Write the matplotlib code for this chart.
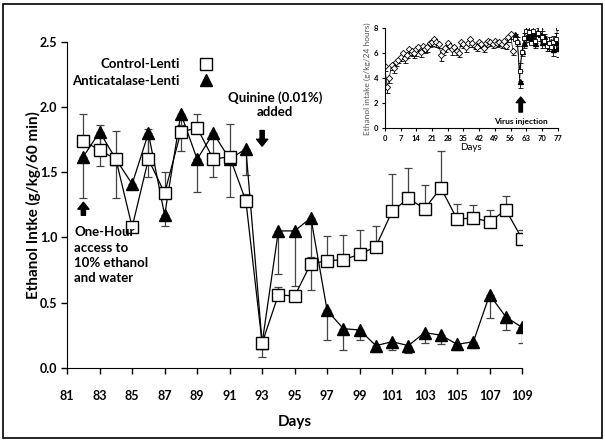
import matplotlib
matplotlib.use('Agg')
import matplotlib.pyplot as plt
from matplotlib.lines import Line2D
from matplotlib.patches import Rectangle

plt.rcParams['font.family'] = ['Lato', 'DejaVu Sans']

# main chart: one-hour sessions, days 82-109
days = list(range(82, 110))
control = [1.74, 1.67, 1.60, 1.08, 1.60, 1.34, 1.81, 1.84, 1.60, 1.62, 1.28, 0.19, 0.56, 0.55,
           0.80, 0.82, 0.83, 0.87, 0.93, 1.20, 1.30, 1.22, 1.38, 1.14, 1.15, 1.12, 1.21, 0.99]
control_err = [0.21, 0.19, 0.22, 0.04, 0.23, 0.16, 0.05, 0.11, 0.05, 0.25, 0.05, 0.05, 0.06, 0.03,
               0.05, 0.19, 0.19, 0.19, 0.16, 0.29, 0.23, 0.18, 0.28, 0.12, 0.10, 0.09, 0.11, 0.07]
anti = [1.62, 1.81, 1.60, 1.41, 1.80, 1.17, 1.95, 1.60, 1.80, 1.60, 1.68, 0.19, 1.05, 1.05,
        1.15, 0.44, 0.30, 0.29, 0.17, 0.20, 0.17, 0.27, 0.25, 0.18, 0.20, 0.56, 0.39, 0.31]
anti_err = [0.32, 0.26, 0.30, 0.04, 0.34, 0.08, 0.29, 0.25, 0.34, 0.29, 0.20, 0.11, 0.33, 0.42,
            0.55, 0.23, 0.16, 0.08, 0.05, 0.06, 0.06, 0.08, 0.07, 0.04, 0.05, 0.18, 0.10, 0.12]
main_xticks = list(range(81, 110, 2))
main_yticks = [0.0, 0.5, 1.0, 1.5, 2.0, 2.5]

# inset: 24 h intake, days 0-77
pre_days = list(range(0, 58))
pre_vals = [5.0, 3.3, 4.0, 5.1, 4.8, 5.3, 5.5, 5.7, 6.0, 5.6, 5.9, 6.3, 6.2, 6.0, 6.3, 6.5, 6.1, 6.6,
            6.3, 6.5, 6.8, 6.9, 7.1, 6.9, 6.7, 5.9, 6.2, 6.4, 6.8, 6.6, 6.3, 6.5, 6.2, 6.0, 6.9, 6.7,
            6.5, 6.8, 7.1, 6.8, 6.6, 6.5, 6.9, 6.7, 6.4, 6.8, 7.0, 6.9, 6.7, 7.0, 6.8, 6.9, 6.7, 7.0,
            6.6, 7.3, 7.5, 6.2]
pre_err = [0.4, 0.5, 0.4, 0.4, 0.4, 0.3, 0.3, 0.3, 0.4, 0.4, 0.3, 0.4, 0.4, 0.4, 0.5, 0.3, 0.4, 0.4,
           0.3, 0.4, 0.3, 0.3, 0.3, 0.4, 0.3, 0.5, 0.3, 0.3, 0.3, 0.3, 0.4, 0.3, 0.3, 0.3, 0.3, 0.3,
           0.4, 0.3, 0.4, 0.3, 0.3, 0.3, 0.3, 0.3, 0.3, 0.3, 0.3, 0.3, 0.3, 0.3, 0.3, 0.3, 0.3, 0.3,
           0.3, 0.4, 0.4, 0.3]
post_days = list(range(58, 78))
post_control = [7.1, 6.9, 4.6, 6.1, 7.2, 7.8, 7.7, 6.8, 7.8, 7.0, 7.6, 7.9, 7.3, 7.0, 6.6, 6.8,
                6.5, 6.9, 7.1, 8.0]
post_control_err = [0.4, 0.4, 0.6, 0.5, 0.4, 0.5, 0.4, 0.4, 0.5, 0.5, 0.4, 0.4, 0.5, 0.5, 0.4, 0.5,
                    0.5, 0.5, 0.5, 0.6]
post_anti = [7.5, 7.0, 3.8, 6.2, 6.8, 7.3, 7.5, 7.2, 7.6, 6.8, 7.8, 7.5, 6.9, 7.4, 6.7, 6.6,
             7.0, 6.3, 6.9, 6.4]
post_anti_err = [0.4, 0.4, 0.6, 0.4, 0.4, 0.4, 0.4, 0.4, 0.5, 0.4, 0.4, 0.5, 0.5, 0.4, 0.5, 0.4,
                 0.5, 0.5, 0.6, 0.7]
inset_xticks = list(range(0, 78, 7))
inset_yticks = [0, 2, 4, 6, 8]

fig = plt.figure(figsize=(6.05, 4.41), dpi=100)
fig.patches.append(Rectangle((0.005, 0.007), 0.99, 0.985, transform=fig.transFigure,
                             fill=False, edgecolor='black', linewidth=1.2))

ax = fig.add_axes([0.111, 0.166, 0.752, 0.739])
err_kw = dict(ecolor='#444444', elinewidth=0.9, capsize=3, capthick=0.9)
ax.errorbar(days, anti, yerr=[anti_err, [0] * len(anti)], color='black', lw=0.9,
            marker='^', markersize=8, markerfacecolor='black', markeredgecolor='black', **err_kw)
ax.errorbar(days, control, yerr=[[0] * len(control), control_err], color='black', lw=0.9,
            marker='s', markersize=8, markerfacecolor='white', markeredgecolor='black', **err_kw)

ax.set_xlim(81, 109)
ax.set_ylim(0, 2.5)
ax.set_xticks(main_xticks)
ax.set_yticks(main_yticks)
ax.set_yticklabels([f'{v:.1f}' for v in main_yticks])
ax.spines['top'].set_visible(False)
ax.spines['right'].set_visible(False)
ax.tick_params(direction='out', length=4, width=1, labelsize=9, pad=12)
ax.tick_params(axis='y', pad=3)
for lbl in ax.get_xticklabels() + ax.get_yticklabels():
    lbl.set_fontweight('bold')
ax.set_xlabel('Days', fontsize=11, fontweight='bold', labelpad=9)
ax.set_ylabel('Ethanol Intke (g/kg/60 min)', fontsize=11, fontweight='bold', labelpad=-1)

handles = [Line2D([], [], ls='none', marker='s', markersize=8, markerfacecolor='white',
                  markeredgecolor='black'),
           Line2D([], [], ls='none', marker='^', markersize=8, color='black')]
ax.legend(handles, ['Control-Lenti', 'Anticatalase-Lenti'], loc='upper left',
          bbox_to_anchor=(0.0, 0.966), markerfirst=False, frameon=False, handlelength=1.2,
          prop={'weight': 'bold', 'size': 9.5}, labelspacing=0.35, borderaxespad=0.0,
          handletextpad=1.4)

arrow_kw = dict(facecolor='black', edgecolor='black', width=3, headwidth=8, headlength=5,
                shrink=0)
ax.text(93.8, 1.92, 'Quinine (0.01%)\nadded', ha='center', va='bottom', fontsize=9.5,
        fontweight='bold', linespacing=1.2)
ax.annotate('', xy=(93, 1.70), xytext=(93, 1.82), arrowprops=arrow_kw)
ax.annotate('', xy=(82, 1.27), xytext=(82, 1.17), arrowprops=arrow_kw)
ax.text(81.45, 1.085, 'One-Hour\naccess to\n10% ethanol\nand water', ha='left', va='top',
        fontsize=9.5, fontweight='bold', linespacing=1.33)

# inset
axi = fig.add_axes([0.636, 0.709, 0.286, 0.227])
small_err = dict(ecolor='black', elinewidth=0.6, capsize=1.8, capthick=0.6)
axi.errorbar(pre_days, pre_vals, yerr=[pre_err, [0] * len(pre_err)], color='black', lw=0.5,
             marker='D', markersize=3.2, markerfacecolor='white', markeredgecolor='black',
             markeredgewidth=0.6, **small_err)
axi.errorbar(post_days, post_anti, yerr=[post_anti_err, [0] * len(post_anti_err)], color='black',
             lw=0.5, marker='^', markersize=3.6, markerfacecolor='black', markeredgecolor='black',
             **small_err)
axi.errorbar(post_days, post_control, yerr=[[0] * len(post_control_err), post_control_err],
             color='black', lw=0.5, marker='s', markersize=3.4, markerfacecolor='white',
             markeredgecolor='black', markeredgewidth=0.6, **small_err)
axi.set_xlim(0, 77)
axi.set_ylim(0, 8)
axi.set_xticks(inset_xticks)
axi.set_yticks(inset_yticks)
axi.spines['top'].set_visible(False)
axi.spines['right'].set_visible(False)
axi.tick_params(direction='out', length=2.5, width=0.8, labelsize=5.5, pad=2)
for lbl in axi.get_xticklabels() + axi.get_yticklabels():
    lbl.set_fontweight('bold')
axi.set_xlabel('Days', fontsize=7, labelpad=1)
axi.set_ylabel('Ethanol intake (g/kg/24 hours)', fontsize=6, color='#555555', labelpad=2)
axi.annotate('', xy=(60.5, 2.5), xytext=(60.5, 1.3),
             arrowprops=dict(facecolor='black', edgecolor='black', width=2.5, headwidth=6.5,
                             headlength=4, shrink=0))
axi.text(60.5, 0.55, 'Virus injection', ha='center', va='center', fontsize=6, fontweight='bold')

fig.savefig('out.png', dpi=100)
